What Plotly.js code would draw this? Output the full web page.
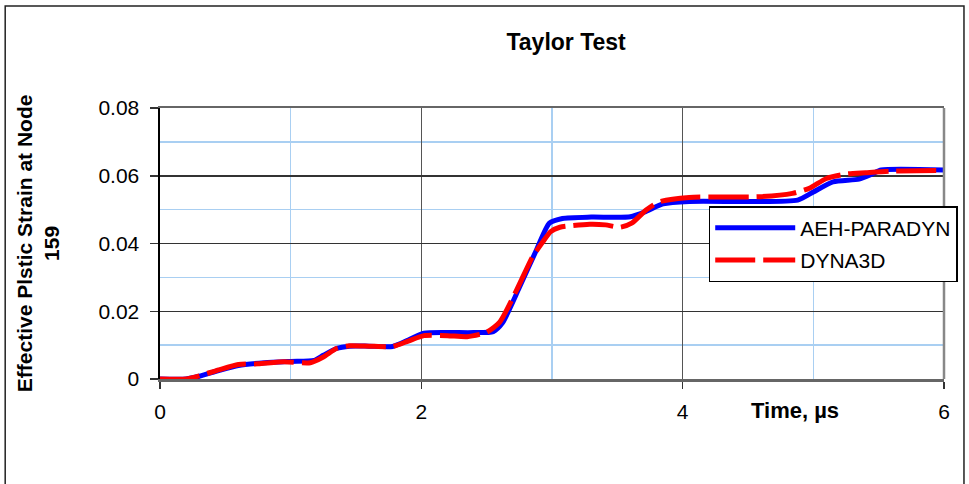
<!DOCTYPE html>
<html>
<head>
<meta charset="utf-8">
<script src="https://cdn.plot.ly/plotly-3.0.1.min.js"></script>
<style>
  html, body { margin: 0; padding: 0; background: #fff; }
  #chart { width: 969px; height: 484px; }
</style>
</head>
<body>
<div id="chart"></div>
<script>
// ---- Data ----
const timeAEH = [0, 0.2, 0.3, 0.45, 0.6, 0.8, 1.0, 1.18, 1.25, 1.35, 1.45, 1.6, 1.78, 1.9, 2.02, 2.2, 2.4, 2.55, 2.62, 2.75, 2.88, 2.98, 3.08, 3.3, 3.6, 3.72, 3.85, 4.05, 4.5, 4.88, 5.0, 5.15, 5.35, 5.45, 5.52, 6.0];
const strainAEH = [0, 0, 0.0008, 0.0025, 0.0040, 0.0048, 0.0052, 0.0055, 0.0070, 0.0090, 0.0097, 0.0097, 0.0096, 0.0115, 0.0135, 0.0137, 0.0137, 0.0140, 0.0165, 0.0270, 0.0380, 0.0460, 0.0474, 0.0478, 0.0479, 0.0495, 0.0517, 0.0524, 0.0524, 0.0528, 0.0552, 0.0582, 0.0590, 0.0605, 0.0617, 0.0617];

const timeDYNA = [0, 0.2, 0.3, 0.45, 0.6, 0.75, 0.95, 1.15, 1.25, 1.35, 1.45, 1.6, 1.78, 1.9, 2.02, 2.2, 2.35, 2.5, 2.6, 2.73, 2.85, 2.93, 2.99, 3.06, 3.29, 3.41, 3.52, 3.61, 3.72, 3.82, 4.05, 4.59, 4.84, 4.97, 5.1, 5.25, 5.4, 5.6, 6.0];
const strainDYNA = [0, 0, 0.0009, 0.0027, 0.0043, 0.0045, 0.0051, 0.0048, 0.0065, 0.0090, 0.0098, 0.0097, 0.0096, 0.0112, 0.0128, 0.0128, 0.0125, 0.0138, 0.0168, 0.0263, 0.0360, 0.0405, 0.0435, 0.0448, 0.0457, 0.0455, 0.0448, 0.0460, 0.0499, 0.0523, 0.0536, 0.0538, 0.0548, 0.0563, 0.0592, 0.0605, 0.0609, 0.0614, 0.0616];

const seriesNames = ["AEH-PARADYN", "DYNA3D"];
const xTickVals = [0, 2, 4, 6];
const xTickText = ["0", "2", "4", "6"];
const yTickVals = [0, 0.02, 0.04, 0.06, 0.08];
const yTickText = ["0", "0.02", "0.04", "0.06", "0.08"];

const FONT = "Liberation Sans, Arial, sans-serif";

const traces = [
  {
    x: timeAEH, y: strainAEH, name: seriesNames[0], type: "scatter", mode: "lines",
    line: { color: "#0000ff", width: 5, shape: "spline", smoothing: 0.6 },
    legendgroup: "a"
  },
  {
    x: timeDYNA, y: strainDYNA, name: seriesNames[1], type: "scatter", mode: "lines",
    line: { color: "#ff0000", width: 5, dash: "40px,8px", shape: "spline", smoothing: 0.6 },
    legendgroup: "b"
  }
];

const layout = {
  width: 969, height: 484,
  margin: { l: 160, r: 24, t: 108, b: 105 },
  paper_bgcolor: "#ffffff",
  plot_bgcolor: "#ffffff",
  font: { family: FONT, size: 21, color: "#000" },
  title: {
    text: "<b>Taylor Test</b>",
    font: { family: FONT, size: 23, color: "#000" },
    xref: "paper", x: 0.518, xanchor: "center",
    yref: "container", y: 1 - 42 / 484, yanchor: "middle"
  },
  showlegend: true,
  legend: {
    x: 0.699, xanchor: "left", y: 0.638, yanchor: "top",
    bgcolor: "#ffffff", bordercolor: "#000", borderwidth: 1.5,
    font: { family: FONT, size: 21, color: "#000" },
    itemwidth: 80, traceorder: "grouped", tracegroupgap: 2
  },
  xaxis: {
    range: [0, 6], tickvals: xTickVals, ticktext: xTickText,
    ticks: "outside", ticklen: 7, tickcolor: "#333", tickwidth: 1.5,
    showgrid: true, gridcolor: "#555", gridwidth: 1.5,
    minor: { dtick: 1, showgrid: true, gridcolor: "#a9cff2", gridwidth: 1.5, ticks: "" },
    showline: true, linecolor: "#666", linewidth: 2.5, mirror: true,
    zeroline: false, tickfont: { family: FONT, size: 21 }, ticklabelstandoff: 5
  },
  yaxis: {
    range: [0, 0.08], tickvals: yTickVals, ticktext: yTickText,
    ticks: "outside", ticklen: 8, tickcolor: "#333", tickwidth: 1.5,
    showgrid: true, gridcolor: "#333", gridwidth: 1.5,
    minor: { dtick: 0.01, showgrid: true, gridcolor: "#a9cff2", gridwidth: 1.5, ticks: "" },
    showline: true, linecolor: "#000", linewidth: 2.5, mirror: false,
    zeroline: false, tickfont: { family: FONT, size: 21 }, ticklabelstandoff: 6
  },
  annotations: [
    {
      text: "<b>Time, µs</b>", xref: "paper", yref: "paper",
      x: (796 - 160) / 785, y: (379 - 410) / 271, xanchor: "center", yanchor: "middle",
      showarrow: false, font: { family: FONT, size: 22, color: "#000" }
    },
    {
      text: "<b>Effective Plstic Strain at Node<br>159</b>", xref: "paper", yref: "paper",
      x: (38 - 160) / 785, y: (379 - 243) / 271, xanchor: "center", yanchor: "middle",
      textangle: -90, showarrow: false, font: { family: FONT, size: 21, color: "#000" }
    }
  ],
  shapes: [
    { type: "line", xref: "paper", yref: "paper", x0: 1, x1: 1, y0: 0, y1: 1,
      line: { color: "#888", width: 2.5 }, layer: "above" },
    { type: "rect", xref: "paper", yref: "paper",
      x0: (5 - 160) / 785, x1: (965 - 160) / 785, y0: -0.45, y1: (379 - 6) / 271,
      line: { color: "#222", width: 1.5 }, fillcolor: "rgba(0,0,0,0)", layer: "below" }
  ]
};

Plotly.newPlot("chart", traces, layout, { displayModeBar: false, staticPlot: true });
</script>
</body>
</html>
